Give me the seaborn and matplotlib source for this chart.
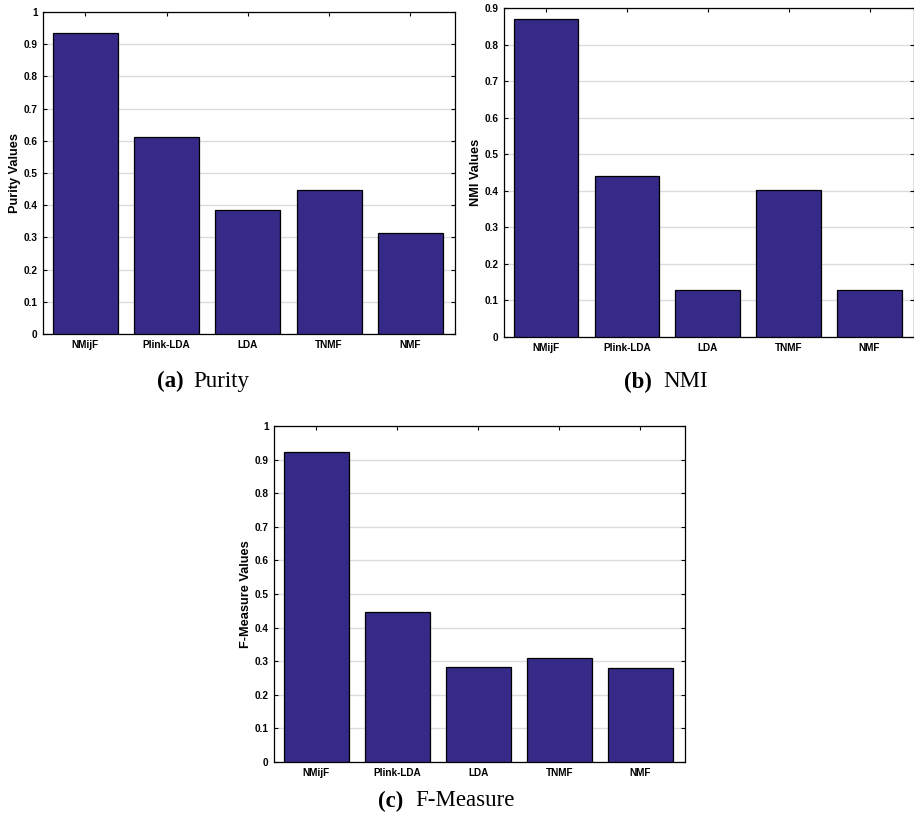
import matplotlib
matplotlib.use("Agg")
import matplotlib.pyplot as plt
import seaborn as sns
import pandas as pd
from matplotlib.ticker import FuncFormatter, MultipleLocator

# data
methods = ["NMijF", "Plink-LDA", "LDA", "TNMF", "NMF"]
purity = [0.935, 0.612, 0.386, 0.448, 0.315]
nmi = [0.871, 0.440, 0.129, 0.402, 0.128]
fmeasure = [0.922, 0.445, 0.284, 0.309, 0.280]

bar_color = "#352a87"

sns.set_style("ticks")
plt.rcParams["font.family"] = ["Liberation Sans", "DejaVu Sans"]
plt.rcParams["text.color"] = "black"
plt.rcParams["axes.labelcolor"] = "black"
plt.rcParams["xtick.color"] = "black"
plt.rcParams["ytick.color"] = "black"

W, H = 914, 815
fig = plt.figure(figsize=(W / 100, H / 100), dpi=100)


def px_axes(left, top, right, bottom):
    return fig.add_axes([left / W, 1 - bottom / H, (right - left) / W, (bottom - top) / H])


def draw_panel(ax, values, ylabel, ymax):
    df = pd.DataFrame({"method": methods, "value": values})
    sns.barplot(data=df, x="method", y="value", color=bar_color, width=0.8,
                edgecolor="black", linewidth=0.9, saturation=1, ax=ax, zorder=3)
    ax.set_ylim(0, ymax)
    ax.set_xlim(-0.52, 4.55)
    ax.yaxis.set_major_locator(MultipleLocator(0.1))
    ax.yaxis.set_major_formatter(FuncFormatter(lambda v, p: "%g" % round(v, 2)))
    ax.grid(axis="y", color="#dcdcdc", linewidth=1, zorder=0)
    ax.set_axisbelow(True)
    ax.tick_params(direction="in", top=True, right=True, length=3, width=0.8,
                   labelsize=7.2, pad=4)
    for lbl in ax.get_xticklabels() + ax.get_yticklabels():
        lbl.set_fontweight("bold")
    ax.set_xlabel("")
    ax.set_ylabel(ylabel, fontsize=9.2, fontweight="bold", labelpad=2)
    for s in ax.spines.values():
        s.set_visible(True)
        s.set_linewidth(0.9)
        s.set_color("black")


ax_a = px_axes(43, 12, 455, 334)
draw_panel(ax_a, purity, "Purity Values", 1.0)

ax_b = px_axes(504, 8, 914, 337)
draw_panel(ax_b, nmi, "NMI Values", 0.9)

ax_c = px_axes(274, 426, 685, 762)
draw_panel(ax_c, fmeasure, "F-Measure Values", 1.0)

# captions: (tag right edge, name left edge, y)
serif = ["Liberation Serif", "DejaVu Serif"]
captions = [(184, 193, 381, "(a)", "Purity"),
            (652, 663, 382, "(b)", "NMI"),
            (403, 415, 801, "(c)", "F-Measure")]
for tx, nx, cy, tag, name in captions:
    fig.text(tx / W, 1 - cy / H, tag, ha="right", va="center",
             fontsize=16.5, fontweight="bold", family=serif)
    fig.text(nx / W, 1 - cy / H, name, ha="left", va="center",
             fontsize=16.5, family=serif)

fig.savefig("out.png", dpi=100)
